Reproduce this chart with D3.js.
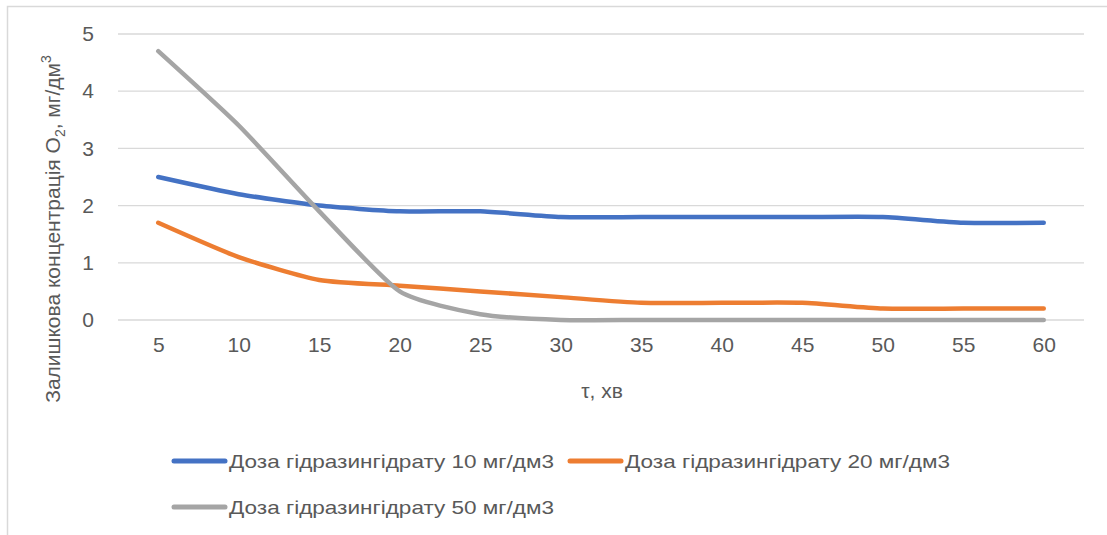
<!DOCTYPE html>
<html><head><meta charset="utf-8">
<script src="https://cdn.jsdelivr.net/npm/d3@7"></script>
<style>body{margin:0;background:#fff}svg{display:block}text{font-family:"Liberation Sans",Arial,sans-serif;fill:#595959}</style>
</head><body><svg id="c" width="1107" height="535"></svg>
<script>
const categories = [5,10,15,20,25,30,35,40,45,50,55,60];
const yTicks = [0,1,2,3,4,5];
const seriesNames = ["Доза гідразингідрату 10 мг/дм3","Доза гідразингідрату 20 мг/дм3","Доза гідразингідрату 50 мг/дм3"];
const dose10 = [2.5,2.2,2.0,1.9,1.9,1.8,1.8,1.8,1.8,1.8,1.7,1.7];
const dose20 = [1.7,1.1,0.7,0.6,0.5,0.4,0.3,0.3,0.3,0.2,0.2,0.2];
const dose50 = [4.7,3.4,1.9,0.5,0.1,0,0,0,0,0,0,0];
const colors = ["#4472C4","#ED7D31","#A5A5A5"];
const xTitle = "τ, хв";

const svg = d3.select("#c");
svg.append("path").attr("d","M7.5,535 V6.5 H1107").attr("fill","none").attr("stroke","#d9d9d9").attr("stroke-width",1.5);

const x = d3.scalePoint().domain(categories).range([118,1084]).padding(0.5);
const y = d3.scaleLinear().domain([0,5]).range([320,34]);

svg.append("g").selectAll("line").data(yTicks).join("line")
  .attr("x1",118).attr("x2",1084).attr("y1",d=>y(d)).attr("y2",d=>y(d))
  .attr("stroke","#d9d9d9").attr("stroke-width",1.3);

const ya = svg.append("g").attr("transform","translate(118,0)")
  .call(d3.axisLeft(y).tickValues(yTicks).tickFormat(d3.format("d")).tickSize(0).tickPadding(24));
ya.select(".domain").remove();
ya.attr("font-size",21).attr("font-family","Liberation Sans, Arial");
ya.selectAll("text").style("fill","#595959");

const xa = svg.append("g").attr("transform","translate(0,320)")
  .call(d3.axisBottom(x).tickSize(0).tickPadding(17));
xa.select(".domain").remove();
xa.attr("font-size",21).attr("font-family","Liberation Sans, Arial");
xa.selectAll("text").style("fill","#595959");

svg.append("text").attr("x",602).attr("y",398).attr("text-anchor","middle").attr("font-size",21).text(xTitle);
const yl = svg.append("text").attr("transform","translate(60,229) rotate(-90)").attr("text-anchor","middle").attr("font-size",21);
yl.append("tspan").text("Залишкова концентрація O");
yl.append("tspan").attr("font-size",14).attr("dy",5).text("2");
yl.append("tspan").attr("dy",-5).text(", мг/дм");
yl.append("tspan").attr("font-size",14).attr("dy",-9).text("3");

const line = d3.line().x((d,i)=>x(categories[i])).y(d=>y(d)).curve(d3.curveCardinal.tension(0.4));
[dose10,dose20,dose50].forEach((s,k)=>{
  svg.append("path").datum(s).attr("d",line).attr("fill","none")
    .attr("stroke",colors[k]).attr("stroke-width",4.5).attr("stroke-linecap","round").attr("stroke-linejoin","round");
});

const legPos = [[172,461],[568,461],[172,507]];
seriesNames.forEach((n,k)=>{
  const [lx,ly] = legPos[k];
  svg.append("line").attr("x1",lx+2).attr("x2",lx+53).attr("y1",ly).attr("y2",ly)
    .attr("stroke",colors[k]).attr("stroke-width",5).attr("stroke-linecap","round");
  svg.append("text").attr("x",lx+57).attr("y",ly+7).attr("font-size",19)
    .attr("textLength",325).attr("lengthAdjust","spacingAndGlyphs").text(n);
});
</script></body></html>
